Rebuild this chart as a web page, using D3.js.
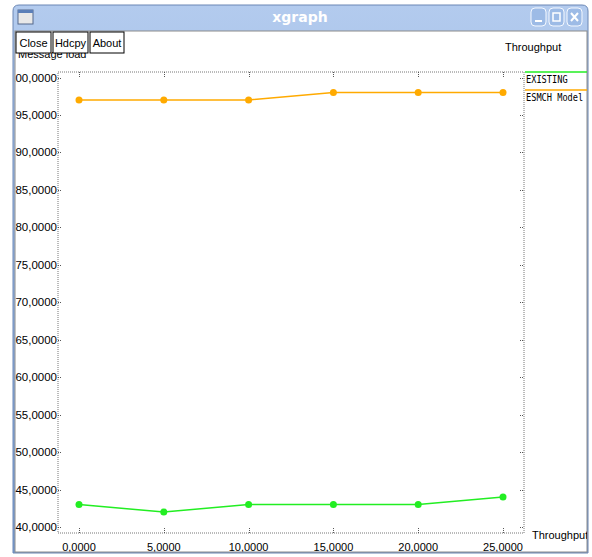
<!DOCTYPE html>
<html>
<head>
<meta charset="utf-8">
<script src="https://cdn.jsdelivr.net/npm/d3@7"></script>
<style>
  body { margin: 0; background: #ffffff; }
  svg text { font-family: "Liberation Sans", sans-serif; }
</style>
</head>
<body>
<div id="plot"></div>
<script>
// data
var loads = [0, 5, 10, 15, 20, 25]
var existing = [43, 42, 43, 43, 43, 44]
var esmch = [97, 97, 97, 98, 98, 98]
var seriesNames = ['EXISTING', 'ESMCH Model']
var seriesColors = ['#22ee22', '#ffaa00']
var xTicks = [0, 5, 10, 15, 20, 25]
var yTicks = [40, 45, 50, 55, 60, 65, 70, 75, 80, 85, 90, 95, 100]

class XGraph {

    constructor() {
        this.width = 592
        this.height = 557
        this.svg = d3.select('#plot')
            .append('svg')
            .attr('width', this.width)
            .attr('height', this.height)
            .attr('id', 'content')
        // plot frame
        this.left = 58
        this.right = 524
        this.top = 72
        this.bottom = 533
    }

    drawWindow() {
        var svg = this.svg
        var defs = svg.append('defs')
        var grad = defs.append('linearGradient')
            .attr('id', 'titlegrad')
            .attr('x1', 0).attr('y1', 0).attr('x2', 0).attr('y2', 1)
        grad.append('stop').attr('offset', '0%').attr('stop-color', '#b3cbee')
        grad.append('stop').attr('offset', '100%').attr('stop-color', '#7a9fd6')

        defs.append('clipPath').attr('id', 'inner')
            .append('rect')
            .attr('x', 15).attr('y', 31)
            .attr('width', 572).attr('height', 521)

        // frame + title bar
        svg.append('path')
            .attr('d', 'M13,553 L13,11 Q13,5 19,5 L582,5 Q588,5 588,11 L588,553 Z')
            .attr('fill', 'url(#titlegrad)')
            .attr('stroke', '#6a86b4')
        svg.append('rect')
            .attr('x', 15).attr('y', 31)
            .attr('width', 572).attr('height', 521)
            .attr('fill', '#ffffff')
            .attr('stroke', '#8c8c8c')

        // window icon
        svg.append('rect')
            .attr('x', 18).attr('y', 10).attr('width', 15).attr('height', 14)
            .attr('fill', '#e8e8e8').attr('stroke', '#55698c')
        svg.append('rect')
            .attr('x', 18).attr('y', 10).attr('width', 15).attr('height', 3)
            .attr('fill', '#5b7fb8')

        svg.append('text')
            .attr('x', 300).attr('y', 22)
            .attr('text-anchor', 'middle')
            .attr('fill', '#ffffff')
            .style('font-family', '"DejaVu Sans", sans-serif')
            .style('font-weight', 'bold')
            .style('font-size', '14px')
            .text('xgraph')

        // title buttons
        var btnX = [531, 549, 567]
        svg.selectAll('rect.wbtn').data(btnX).enter()
            .append('rect')
            .attr('class', 'wbtn')
            .attr('x', d => d).attr('y', 8)
            .attr('width', 15).attr('height', 18)
            .attr('rx', 4)
            .attr('fill', '#9dbbe6')
            .attr('stroke', '#f4f8ff')
        svg.append('line').attr('x1', 535).attr('x2', 542).attr('y1', 21).attr('y2', 21)
            .attr('stroke', '#ffffff').attr('stroke-width', 2)
        svg.append('rect').attr('x', 553).attr('y', 13).attr('width', 7).attr('height', 8)
            .attr('fill', 'none').attr('stroke', '#ffffff').attr('stroke-width', 1.5)
        svg.append('path').attr('d', 'M571,13 L578,21 M578,13 L571,21')
            .attr('stroke', '#ffffff').attr('stroke-width', 2)
    }

    drawChart() {
        var svg = this.svg
        var g = svg.append('g').attr('clip-path', 'url(#inner)')

        var x = d3.scaleLinear().domain([0, 25]).range([79, 503])
        var y = d3.scaleLinear().domain([40, 100]).range([527, 77.5])
        var loc = d3.formatLocale({ decimal: ',', thousands: '.', grouping: [3], currency: ['', ''] })
        var fmt = loc.format('.4f')

        // "Message load" label sits partly under the buttons
        g.append('text')
            .attr('x', 18).attr('y', 58)
            .style('font-size', '11px')
            .text('Message load')

        // buttons
        var buttons = [{ t: 'Close', x: 16, w: 35 }, { t: 'Hdcpy', x: 53, w: 35 }, { t: 'About', x: 90, w: 34 }]
        var bg = g.selectAll('g.btn').data(buttons).enter()
            .append('g').attr('class', 'btn')
        bg.append('rect')
            .attr('x', d => d.x).attr('y', 32)
            .attr('width', d => d.w).attr('height', 21)
            .attr('fill', '#ffffff').attr('stroke', '#000000')
        bg.append('text')
            .attr('x', d => d.x + d.w / 2).attr('y', 47)
            .attr('text-anchor', 'middle')
            .style('font-size', '11px')
            .text(d => d.t)

        g.append('text')
            .attr('x', 505).attr('y', 51)
            .style('font-size', '11px')
            .text('Throughput')
        g.append('text')
            .attr('x', 532).attr('y', 539)
            .style('font-size', '11px')
            .text('Throughput')

        // dotted frame
        var frame = g.append('g')
            .attr('stroke', '#777777')
            .attr('stroke-dasharray', '1,1')
            .attr('fill', 'none')
        frame.append('rect')
            .attr('x', this.left).attr('y', this.top)
            .attr('width', this.right - this.left)
            .attr('height', this.bottom - this.top)

        // y ticks (left and right)
        g.selectAll('line.yt').data(yTicks).enter()
            .append('line').attr('class', 'yt')
            .attr('x1', this.left).attr('x2', this.left + 4)
            .attr('y1', d => Math.round(y(d)) + 0.5).attr('y2', d => Math.round(y(d)) + 0.5)
            .attr('stroke', '#555555').attr('stroke-dasharray', '1,1')
        g.selectAll('line.yr').data(yTicks).enter()
            .append('line').attr('class', 'yr')
            .attr('x1', this.right - 4).attr('x2', this.right)
            .attr('y1', d => Math.round(y(d)) + 0.5).attr('y2', d => Math.round(y(d)) + 0.5)
            .attr('stroke', '#555555').attr('stroke-dasharray', '1,1')
        g.selectAll('text.yl').data(yTicks).enter()
            .append('text').attr('class', 'yl')
            .attr('x', this.left - 1).attr('y', d => y(d) + 4)
            .attr('text-anchor', 'end')
            .style('font-size', '11.5px')
            .text(d => fmt(d))

        // x ticks (bottom and top)
        g.selectAll('line.xt').data(xTicks).enter()
            .append('line').attr('class', 'xt')
            .attr('x1', d => Math.round(x(d)) + 0.5).attr('x2', d => Math.round(x(d)) + 0.5)
            .attr('y1', this.bottom - 5).attr('y2', this.bottom)
            .attr('stroke', '#555555').attr('stroke-dasharray', '1,1')
        g.selectAll('line.xtt').data(xTicks).enter()
            .append('line').attr('class', 'xtt')
            .attr('x1', d => Math.round(x(d)) + 0.5).attr('x2', d => Math.round(x(d)) + 0.5)
            .attr('y1', this.top).attr('y2', this.top + 5)
            .attr('stroke', '#555555').attr('stroke-dasharray', '1,1')
        g.selectAll('text.xl').data(xTicks).enter()
            .append('text').attr('class', 'xl')
            .attr('x', d => x(d)).attr('y', 551)
            .attr('text-anchor', 'middle')
            .style('font-size', '11px')
            .text(d => fmt(d))

        // series
        var series = [existing, esmch]
        var line = d3.line()
            .x((d, i) => x(loads[i]))
            .y(d => y(d))
        series.forEach(function (vals, k) {
            g.append('path')
                .datum(vals)
                .attr('d', line)
                .attr('fill', 'none')
                .attr('stroke', seriesColors[k])
                .attr('stroke-width', 1.5)
            g.selectAll('circle.s' + k).data(vals).enter()
                .append('circle').attr('class', 's' + k)
                .attr('cx', (d, i) => x(loads[i]))
                .attr('cy', d => y(d))
                .attr('r', 3.5)
                .attr('fill', seriesColors[k])
        })

        // legend
        var leg = g.selectAll('g.leg').data(seriesNames).enter()
            .append('g').attr('class', 'leg')
        leg.append('line')
            .attr('x1', this.right + 1).attr('x2', 587)
            .attr('y1', (d, i) => 72 + i * 18).attr('y2', (d, i) => 72 + i * 18)
            .attr('stroke', (d, i) => seriesColors[i])
            .attr('stroke-width', 1.5)
        leg.append('text')
            .attr('x', this.right + 2)
            .attr('y', (d, i) => 83 + i * 18)
            .style('font-family', '"DejaVu Sans Mono", monospace')
            .style('font-size', '10px')
            .attr('textLength', d => d.length * 5.2)
            .attr('lengthAdjust', 'spacingAndGlyphs')
            .text(d => d)
    }
}

var chart = new XGraph()
chart.drawWindow()
chart.drawChart()
</script>
</body>
</html>
